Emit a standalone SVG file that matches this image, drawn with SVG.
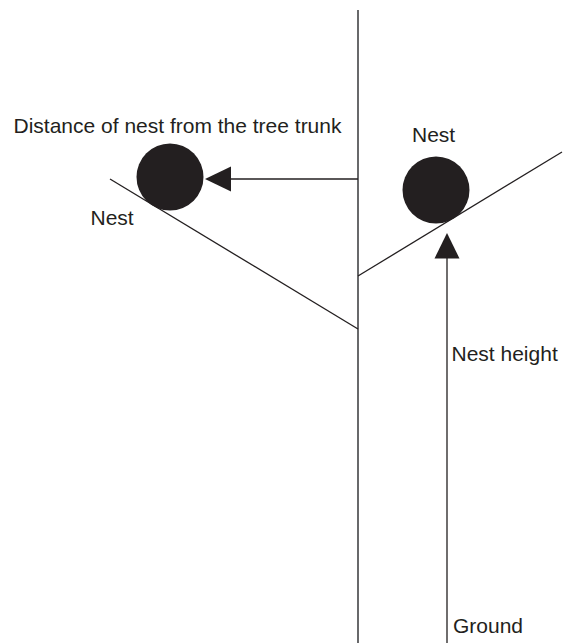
<svg xmlns="http://www.w3.org/2000/svg" width="565" height="643" viewBox="0 0 565 643">
<style>
text{font-family:"Liberation Sans",Arial,sans-serif;font-size:21px;fill:#231f20}
.ln{stroke:#231f20;stroke-width:1.3;fill:none}
.trunk{stroke:#58595b;stroke-width:1.8;fill:none}
.nest{fill:#231f20}
.head{fill:#231f20}
</style>
<rect width="565" height="643" fill="#fff"/>
<g id="tree">
<line class="trunk" x1="358" y1="10" x2="358" y2="643"/>
<line class="ln" x1="110" y1="179" x2="358" y2="329"/>
<line class="ln" x1="358" y1="276" x2="562" y2="152"/>
</g>
<g id="nest-left">
<circle class="nest" cx="170" cy="177" r="33.5"/>
<text x="90.5" y="225">Nest</text>
</g>
<g id="nest-right">
<circle class="nest" cx="436" cy="190" r="33.5"/>
<text x="412" y="141.5">Nest</text>
</g>
<g id="labels">
<text x="13.5" y="132.5">Distance of nest from the tree trunk</text>
<text x="451.5" y="361">Nest height</text>
<text x="453" y="632.5">Ground</text>
</g>
<g id="connectors">
<line class="ln" x1="358" y1="179" x2="230" y2="179"/>
<polygon class="head" points="205,179 231,166.5 231,191.5"/>
<line class="ln" x1="447" y1="643" x2="447" y2="257"/>
<polygon class="head" points="447,233 434.5,258.5 459.5,258.5"/>
</g>
</svg>
